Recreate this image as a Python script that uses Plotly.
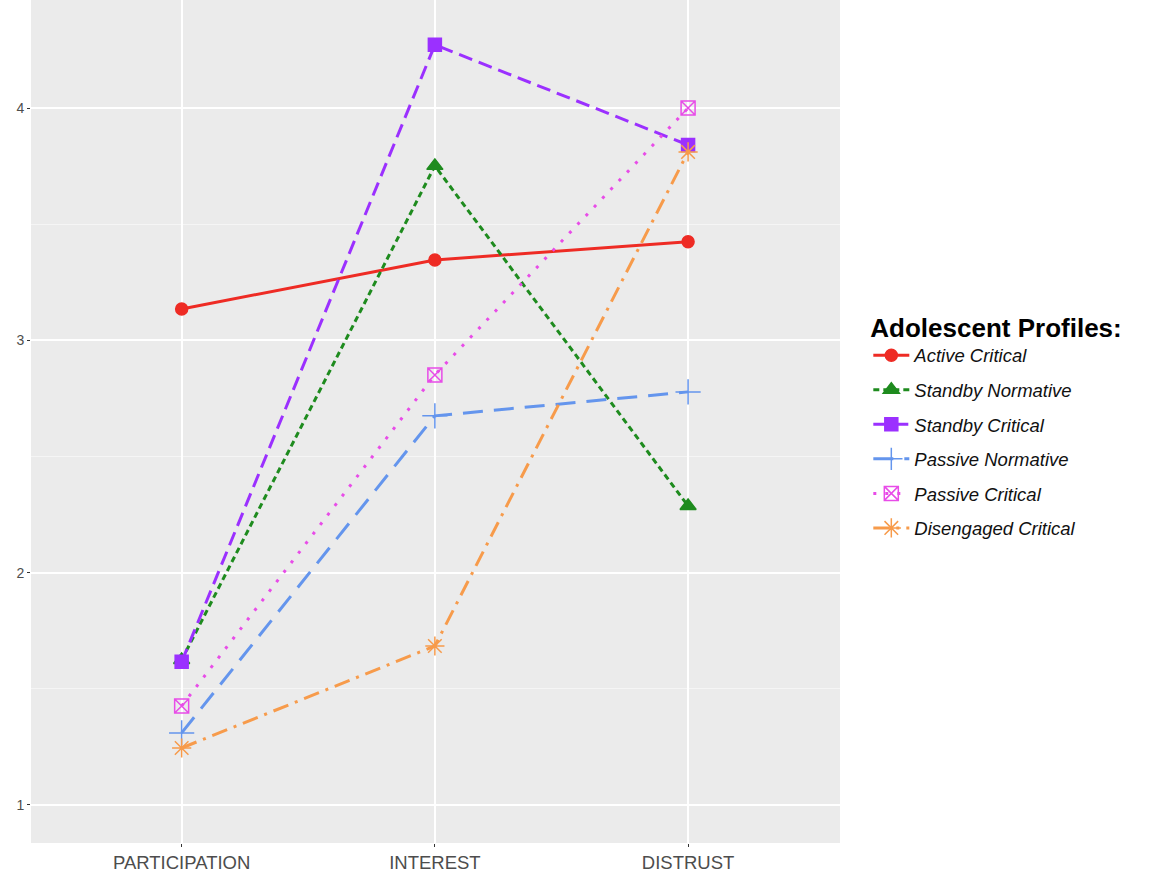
import plotly.graph_objects as go

categories = ["PARTICIPATION", "INTEREST", "DISTRUST"]
profiles = ["Active Critical", "Standby Normative", "Standby Critical",
            "Passive Normative", "Passive Critical", "Disengaged Critical"]
active_critical = [3.135, 3.346, 3.424]
standby_normative = [1.624, 3.751, 2.287]
standby_critical = [1.616, 4.272, 3.841]
passive_normative = [1.31, 2.675, 2.778]
passive_critical = [1.426, 2.851, 4.0]
disengaged_critical = [1.245, 1.684, 3.811]
values = [active_critical, standby_normative, standby_critical,
          passive_normative, passive_critical, disengaged_critical]
y_ticks = [1, 2, 3, 4]

colors = ["#EE2B24", "#1E8B1E", "#9B30FF", "#6495ED", "#E84CE8", "#F79B4B"]
dashes = ["solid", "6px,4px", "14px,7px", "20px,11px", "3px,9px", "16px,7px,3px,7px"]
symbols = ["circle", "triangle-up", "square", "cross-thin-open", "square-x-open", "asterisk-open"]
sizes = [12, 14, 13, 18, 14, 16]

fig = go.Figure()
for i, (name, vals, c, d, s, sz) in enumerate(zip(profiles, values, colors, dashes, symbols, sizes)):
    fig.add_trace(go.Scatter(
        x=categories, y=vals, name=f"<i>{name}</i>", mode="lines+markers",
        legendgroup=f"g{i}",
        line=dict(color=c, width=3, dash=d),
        marker=dict(symbol=s, size=sz, color=c, line=dict(color=c, width=1.5)),
    ))

fig.update_layout(
    width=1151, height=873,
    margin=dict(l=31, r=311, t=0, b=30, autoexpand=False),
    plot_bgcolor="#EBEBEB", paper_bgcolor="white",
    font=dict(family="Liberation Sans, Arial, sans-serif", color="#4D4D4D"),
    showlegend=True,
    legend=dict(
        title=dict(text="<b>Adolescent Profiles:</b>", font=dict(size=26, color="black")),
        font=dict(size=18.5, color="#111111"),
        x=1.035, xanchor="left", y=0.496, yanchor="middle",
        bgcolor="rgba(0,0,0,0)", itemwidth=36, tracegroupgap=7.5,
    ),
    xaxis=dict(
        type="category", range=[-0.595, 2.6], showgrid=True, gridcolor="white", gridwidth=1.5,
        ticks="outside", ticklen=3, tickcolor="#333333", tickfont=dict(size=18.5, color="#4D4D4D"),
        zeroline=False, showline=False, automargin=False,
    ),
    yaxis=dict(
        range=[0.836, 4.465], tickvals=y_ticks, showgrid=True, gridcolor="white", gridwidth=1.5,
        minor=dict(tickvals=[1.5, 2.5, 3.5], showgrid=True, gridcolor="#F5F5F5", gridwidth=0.8, ticks=""),
        ticks="outside", ticklen=3, tickcolor="#333333", tickfont=dict(size=14, color="#4D4D4D"),
        zeroline=False, showline=False, automargin=False,
    ),
)

fig.write_html("out.html", config={"displayModeBar": False},
               post_script="document.body.style.margin='0';document.body.style.overflow='hidden';")
